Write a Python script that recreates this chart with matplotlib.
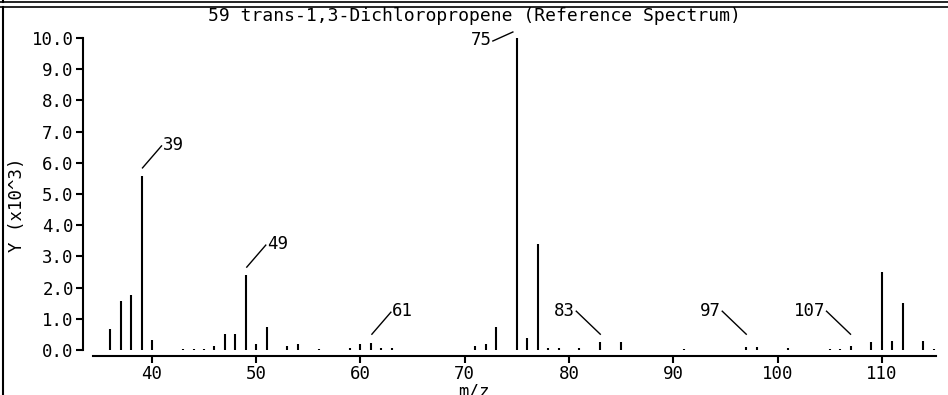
import matplotlib
matplotlib.use("Agg")
import matplotlib.pyplot as plt
from matplotlib.lines import Line2D

# peak positions (m/z) and intensities (x10^3)
mz = [36, 37, 38, 39, 40, 43, 44, 45, 46, 47, 48, 49, 50, 51, 53, 54, 56,
      59, 60, 61, 62, 63, 71, 72, 73, 75, 76, 77, 78, 79, 81, 83, 85, 91,
      97, 98, 101, 105, 106, 107, 109, 110, 111, 112, 114, 115]
intensity = [0.66, 1.58, 1.76, 5.58, 0.31, 0.04, 0.04, 0.04, 0.12, 0.50, 0.50,
             2.40, 0.19, 0.73, 0.13, 0.18, 0.04, 0.05, 0.18, 0.23, 0.08, 0.08,
             0.12, 0.20, 0.73, 10.0, 0.37, 3.40, 0.06, 0.05, 0.05, 0.25, 0.25,
             0.04, 0.10, 0.10, 0.06, 0.04, 0.04, 0.14, 0.25, 2.50, 0.30, 1.50,
             0.30, 0.04]

# labelled peaks and which side the label sits on
label_mz = [39, 49, 61, 75, 83, 97, 107]
label_side = ['right', 'right', 'right', 'top', 'left', 'left', 'left']

title = "59 trans-1,3-Dichloropropene (Reference Spectrum)"
xticks = [40, 50, 60, 70, 80, 90, 100, 110]
yticks = [0, 1, 2, 3, 4, 5, 6, 7, 8, 9, 10]

W, H = 948, 395
plt.rcParams['font.family'] = ['DejaVu Sans Mono']
fs = 12.5

fig = plt.figure(figsize=(W / 100, H / 100), dpi=100)
ax = fig.add_axes([92.5 / W, (H - 350) / H, (936 - 92.5) / W, 312 / H])
ax.set_xlim(34.3, 115.2)
ax.set_ylim(0, 10)

ax.vlines(mz, 0, intensity, color='black', lw=1.5, capstyle='butt')

for s in ['top', 'right']:
    ax.spines[s].set_visible(False)
ax.spines['bottom'].set_position(('outward', 4))
ax.spines['left'].set_position(('outward', 7))
ax.spines['left'].set_bounds(0, 10)
for s in ['bottom', 'left']:
    ax.spines[s].set_linewidth(1.5)

ax.set_xticks(xticks)
ax.set_xticklabels([str(t) for t in xticks], fontsize=fs)
ax.set_yticks(yticks)
ax.set_yticklabels(['%.1f' % t for t in yticks], fontsize=fs)
ax.tick_params(direction='out', length=5, width=1.5, pad=1.5)

# annotation lines and labels, offsets in pixels from the peak top
fig.canvas.draw()
inv = ax.transData.inverted()
for lab, side in zip(label_mz, label_side):
    h = intensity[mz.index(lab)]
    px, py = ax.transData.transform((lab, max(h, 0.25)))
    if side == 'right':
        p0, p1, tx, ty, ha = (px + 1, py + 8), (px + 20, py + 30), px + 21, py + 31, 'left'
    elif side == 'left':
        p0, p1, tx, ty, ha = (px, py + 8), (px - 24, py + 31), px - 25, py + 31, 'right'
    else:
        p0, p1, tx, ty, ha = (px - 4, py + 6), (px - 24, py - 3), px - 25, py - 2, 'right'
    a = inv.transform(p0)
    b = inv.transform(p1)
    ax.plot([a[0], b[0]], [a[1], b[1]], color='black', lw=1, clip_on=False)
    t = inv.transform((tx, ty))
    ax.text(t[0], t[1], str(lab), ha=ha, va='center', fontsize=fs, clip_on=False)

fig.text(0.5, 1 - 16 / H, title, ha='center', va='center', fontsize=13)
fig.text(0.5, 1 - 391 / H, 'm/z', ha='center', va='center', fontsize=fs)
fig.text(17 / W, 1 - 205 / H, 'Y (x10^3)', ha='center', va='center',
         rotation=90, fontsize=fs)

# panel frame lines
for y in [2, 7]:
    fig.add_artist(Line2D([0, 1], [1 - y / H, 1 - y / H], color='black', lw=1.2))
fig.add_artist(Line2D([3 / W, 3 / W], [0, 1 - 7 / H], color='black', lw=1.5))
fig.add_artist(Line2D([3 / W, 3 / W], [1 - 2 / H, 1], color='black', lw=1.5))

fig.savefig('out.png', dpi=100)
